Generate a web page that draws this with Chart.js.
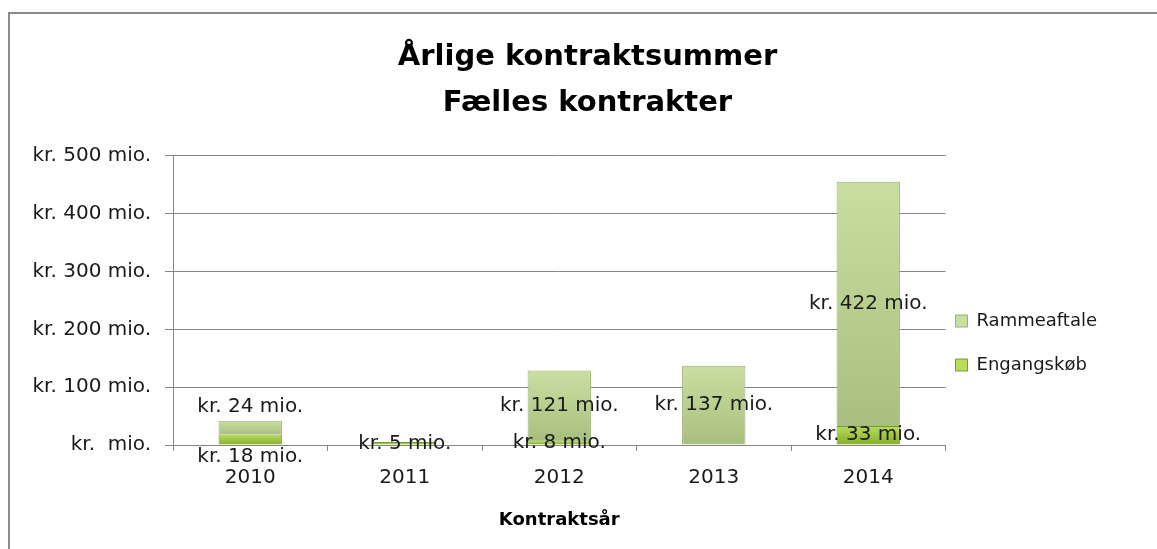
<!DOCTYPE html>
<html>
<head>
<meta charset="utf-8">
<script src="https://cdn.jsdelivr.net/npm/chart.js@4.4.0/dist/chart.umd.min.js"></script>
<style>
    html, body { margin: 0; padding: 0; background: #fff; overflow: hidden; }
    #frame { position: absolute; left: 8px; top: 12px; width: 1300px; height: 700px;
             border-left: 2px solid #8a8a8a; border-top: 2px solid #8a8a8a; }
    #wrap { position: absolute; left: 0; top: 0; width: 1157px; height: 549px; }
</style>
</head>
<body>
<div id="frame"></div>
<div id="wrap"><canvas id="chart"></canvas></div>
<script>
const years = ['2010', '2011', '2012', '2013', '2014'];
const engangskob = [18, 5, 8, 0, 33];
const rammeaftale = [24, 0, 121, 137, 422];
const yTickValues = [0, 100, 200, 300, 400, 500];
const yTickLabels = ['kr.  mio.', 'kr. 100 mio.', 'kr. 200 mio.', 'kr. 300 mio.', 'kr. 400 mio.', 'kr. 500 mio.'];

const FONT = '"DejaVu Sans", sans-serif';

function fmt(v) {
    return 'kr. ' + v + ' mio.';
}

// vertical gradient over one bar segment
function barFill(c, top, bottom, flat) {
    if (c.type !== 'data') return flat;
    const chart = c.chart;
    const y = chart.scales.y;
    if (!y || !chart.chartArea) return flat;
    const i = c.dataIndex;
    let start = 0;
    for (let d = 0; d < c.datasetIndex; d++) start += chart.data.datasets[d].data[i];
    const end = start + c.raw;
    const y0 = y.getPixelForValue(end);
    const y1 = y.getPixelForValue(start);
    if (!isFinite(y0) || !isFinite(y1) || y1 - y0 < 1) return flat;
    const g = chart.ctx.createLinearGradient(0, y0, 0, y1);
    g.addColorStop(0, top);
    g.addColorStop(1, bottom);
    return g;
}

const valueLabels = {
    id: 'valueLabels',
    afterDatasetsDraw(chart) {
        const ctx = chart.ctx;
        const lower = chart.getDatasetMeta(0).data;
        const upper = chart.getDatasetMeta(1).data;
        ctx.save();
        ctx.font = '20px ' + FONT;
        ctx.fillStyle = '#1a1a1a';
        ctx.textAlign = 'center';
        ctx.textBaseline = 'middle';
        years.forEach((yr, i) => {
            const lo = lower[i], up = upper[i];
            let loY = (lo.y + lo.base) / 2;
            let upY = (up.y + up.base) / 2;
            // push labels apart when they would collide
            if (engangskob[i] && rammeaftale[i] && Math.abs(loY - upY) < 24) {
                upY = up.y - 14;
                loY = lo.base + 12;
            }
            if (engangskob[i]) ctx.fillText(fmt(engangskob[i]), lo.x, loY);
            if (rammeaftale[i]) ctx.fillText(fmt(rammeaftale[i]), up.x, upY);
        });
        ctx.restore();
    }
};

// legend sits lower and closer to the plot, title is centred on the whole frame
const boxNudge = {
    id: 'boxNudge',
    afterLayout(chart) {
        const lg = chart.legend;
        if (lg) {
            lg.top += 68;
            lg.bottom += 68;
            lg.left -= 16;
            lg.right -= 16;
        }
        const t = chart.titleBlock;
        if (t) {
            t.left += 20;
            t.right += 20;
        }
    }
};

new Chart(document.getElementById('chart'), {
    type: 'bar',
    data: {
        labels: years,
        datasets: [{
            label: 'Engangskøb',
            data: engangskob,
            backgroundColor: c => barFill(c, '#b9dc5c', '#86ad2c', '#9bc83c'),
            borderColor: '#789c2e',
            borderWidth: 1,
            barPercentage: 0.41,
            categoryPercentage: 1
        }, {
            label: 'Rammeaftale',
            data: rammeaftale,
            backgroundColor: c => barFill(c, '#c8dfa1', '#a8bf7f', '#b5cf8c'),
            borderColor: '#98af72',
            borderWidth: 1,
            barPercentage: 0.41,
            categoryPercentage: 1
        }]
    },
    options: {
        responsive: true,
        maintainAspectRatio: false,
        animation: false,
        layout: { padding: { left: 12, right: 34, top: 12, bottom: 11 } },
        plugins: {
            title: {
                display: true,
                text: ['Årlige kontraktsummer', 'Fælles kontrakter'],
                color: '#000',
                font: { family: FONT, size: 29, weight: 'bold', lineHeight: 1.6 },
                padding: { top: 22, bottom: 29 }
            },
            legend: {
                position: 'right',
                reverse: true,
                labels: {
                    color: '#1a1a1a',
                    font: { family: FONT, size: 18 },
                    boxWidth: 12,
                    boxHeight: 12,
                    padding: 26
                }
            },
            tooltip: { enabled: false }
        },
        scales: {
            x: {
                stacked: true,
                afterFit: s => { s.height = 93; },
                grid: { drawOnChartArea: false, color: '#868686', tickLength: 6 },
                border: { color: '#868686' },
                ticks: { color: '#1a1a1a', font: { family: FONT, size: 20 }, padding: 15 },
                title: {
                    display: true,
                    text: 'Kontraktsår',
                    color: '#000',
                    font: { family: FONT, size: 18, weight: 'bold' },
                    padding: { top: 4, bottom: 7 }
                }
            },
            y: {
                stacked: true,
                min: 0,
                max: 500,
                afterBuildTicks: s => { s.ticks = yTickValues.map(v => ({ value: v })); },
                afterFit: s => { s.width = 161; },
                grid: { color: '#868686', tickLength: 8 },
                border: { color: '#868686' },
                ticks: {
                    color: '#1a1a1a',
                    font: { family: FONT, size: 20 },
                    padding: 14,
                    callback: (v) => yTickLabels[yTickValues.indexOf(v)]
                }
            }
        }
    },
    plugins: [valueLabels, boxNudge]
});
</script>
</body>
</html>
